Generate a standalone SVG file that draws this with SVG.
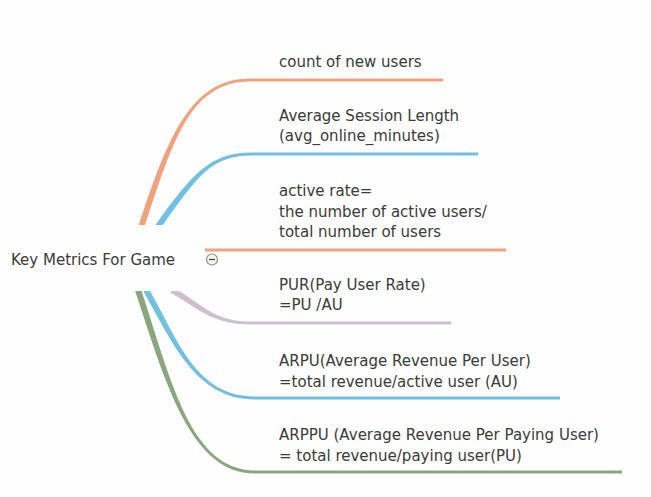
<svg xmlns="http://www.w3.org/2000/svg" width="651" height="497" viewBox="0 0 651 497">
<style>
text{font-family:"DejaVu Sans","Verdana",sans-serif;font-size:15px;fill:#383c36}
.orange{fill:#f0a27c}
.blue{fill:#72c0e0}
.purple{fill:#cdbfcd}
.green{fill:#89a67f}
</style>
<rect width="651" height="497" fill="#fefefe"/>
<g id="connectors">
<path class="orange" d="M 138.15 227.06 C 167.15 139.06, 190 78.5, 250 78.5 L 443 78.5 L 443 81.5 L 250 81.5 C 190 81.5, 172.85 140.94, 143.85 228.94 Z"/>
<path class="blue" d="M 154.56 226.25 C 192.56 173.25, 210 152.5, 252 152.5 L 478 152.5 L 478 155.5 L 252 155.5 C 210 155.5, 197.44 176.75, 159.44 229.75 Z"/>
<path class="orange" d="M 205 248.5 L 506 248.5 L 506 251.5 L 205 251.5 Z"/>
<path class="purple" d="M 173.55 287.44 C 206.55 307.44, 215 321.5, 252 321.5 L 451 321.5 L 451 324.5 L 252 324.5 C 215 324.5, 203.45 312.56, 170.45 292.56 Z"/>
<path class="blue" d="M 148.6 288.5 C 177.6 338.5, 195 396.5, 255 396.5 L 560 396.5 L 560 399.5 L 255 399.5 C 195 399.5, 172.4 341.5, 143.4 291.5 Z"/>
<path class="green" d="M 140.85 289.05 C 170.85 379.05, 190 470.5, 255 470.5 L 622 470.5 L 622 473.5 L 255 473.5 C 190 473.5, 165.15 380.95, 135.15 290.95 Z"/>
</g>
<g id="root">
<rect x="0" y="225" width="205" height="66" fill="#fefefe"/>
<text x="11" y="265">Key Metrics For Game</text>
<circle cx="212" cy="259.5" r="5.5" fill="#f4f4f0" stroke="#8e9088" stroke-width="1.2"/>
<line x1="209" y1="259.5" x2="215" y2="259.5" stroke="#404040" stroke-width="1.2"/>
</g>
<g id="node-new-users">
<text x="279" y="67">count of new users</text>
</g>
<g id="node-session-length">
<text x="279" y="121">Average Session Length</text>
<text x="279" y="141">(avg_online_minutes)</text>
</g>
<g id="node-active-rate">
<text x="279" y="196">active rate=</text>
<text x="279" y="217">the number of active users/</text>
<text x="279" y="237">total number of users</text>
</g>
<g id="node-pur">
<text x="279" y="290">PUR(Pay User Rate)</text>
<text x="279" y="310">=PU /AU</text>
</g>
<g id="node-arpu">
<text x="279" y="366">ARPU(Average Revenue Per User)</text>
<text x="279" y="387">=total revenue/active user (AU)</text>
</g>
<g id="node-arppu">
<text x="279" y="440">ARPPU (Average Revenue Per Paying User)</text>
<text x="279" y="461">= total revenue/paying user(PU)</text>
</g>
</svg>
